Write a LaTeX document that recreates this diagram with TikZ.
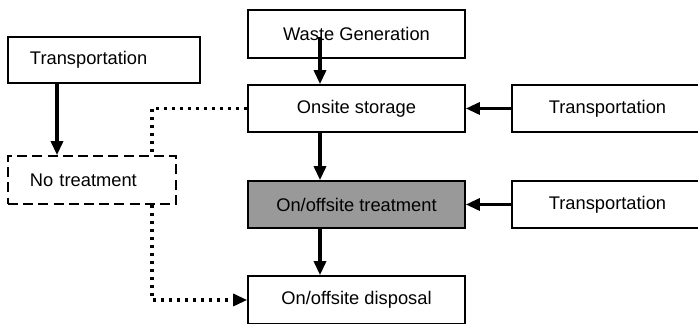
\documentclass[tikz,border=0pt]{standalone}
\usepackage{fontspec}
\setmainfont{Liberation Sans}
\usetikzlibrary{arrows.meta}
\begin{document}
\begin{tikzpicture}[x=0.5pt,y=-0.5pt,
  box/.style={draw=black,line width=0.85pt,rectangle,inner sep=0pt,
    font=\fontsize{9.15pt}{11pt}\selectfont},
  leftbox/.style={box,align=left,inner xsep=11pt},
  dashbox/.style={leftbox,dash pattern=on 5pt off 2.6pt,line width=0.85pt},
  arr/.style={line width=1.6pt,-{Triangle[length=7pt,width=6pt]}},
  dotline/.style={line width=1.6pt,dash pattern=on 1.5pt off 2.5pt},
  dotarr/.style={dotline,-{Triangle[length=7pt,width=6pt]}}]
\useasboundingbox (0,0) rectangle (698,324);
% main chain
\node[box,minimum width=108.5pt,minimum height=24pt] (wg) at (356.5,34) {Waste Generation};
\node[box,minimum width=108.5pt,minimum height=23.5pt] (os) at (356.5,108.5) {Onsite storage};
\node[box,minimum width=108.5pt,minimum height=23.5pt,fill=black!40] (tr) at (356.5,204.5) {On/offsite treatment};
\node[box,minimum width=108.5pt,minimum height=24pt] (dp) at (356.5,300) {On/offsite disposal};
% transport feeding from the right
\node[box,minimum width=95.5pt,minimum height=23.5pt] (t1) at (607.5,108.5) {Transportation};
\node[box,minimum width=95.5pt,minimum height=23.5pt] (t2) at (607.5,204.5) {Transportation};
% untreated branch on the left
\node[leftbox,text width=74pt,minimum height=23pt] (t0) at (104,60) {Transportation};
\node[dashbox,text width=62pt,minimum height=24pt] (nt) at (92,180) {No treatment};
% guide positions for the vertical connectors
\coordinate (ax) at (320,0);
\coordinate (lx) at (57,0);
\coordinate (dx) at (152,0);
\coordinate (wgin) at (320,37);
% connectors
\draw[arr] (wgin) -- (ax |- os.north);
\draw[arr] (ax |- os.south) -- (ax |- tr.north);
\draw[arr] (ax |- tr.south) -- (ax |- dp.north);
\draw[arr] (t1.west) -- (os.east);
\draw[arr] (t2.west) -- (tr.east);
\draw[arr] (lx |- t0.south) -- (lx |- nt.north);
\draw[dotline] (os.west) -| (dx |- nt.north);
\draw[dotarr] (dx |- nt.south) |- (dp.west);
\end{tikzpicture}
\end{document}
